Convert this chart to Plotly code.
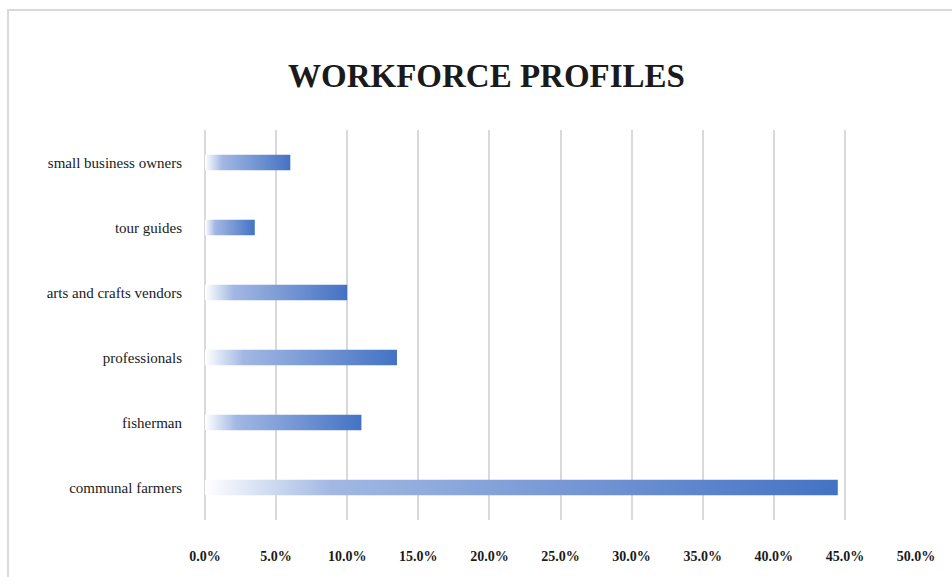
import plotly.graph_objects as go

# categories listed bottom to top, as the chart draws them
categories = [
    "communal farmers",
    "fisherman",
    "professionals",
    "arts and crafts vendors",
    "tour guides",
    "small business owners",
]
shares = [44.5, 11.0, 13.5, 10.0, 3.5, 6.0]

tick_vals = [0, 5, 10, 15, 20, 25, 30, 35, 40, 45, 50]
tick_text = [f"{v:.1f}%" for v in tick_vals]

BLUE = "#4472C4"
BAR_HALF = 0.12
SERIF = "Liberation Serif, Times New Roman, serif"

fig = go.Figure()

# each bar as a filled rectangle so it can carry a white-to-blue gradient
for i, (cat, val) in enumerate(zip(categories, shares)):
    fig.add_trace(
        go.Scatter(
            x=[0, val, val, 0, 0],
            y=[i - BAR_HALF, i - BAR_HALF, i + BAR_HALF, i + BAR_HALF, i - BAR_HALF],
            mode="lines",
            line=dict(width=0),
            fill="toself",
            fillgradient=dict(
                type="horizontal",
                colorscale=[[0, "rgba(255,255,255,1)"], [0.2, "#A2B8E3"], [1, BLUE]],
            ),
            name=cat,
            hovertemplate=f"{cat}: {val:.1f}%<extra></extra>",
            showlegend=False,
        )
    )

fig.update_layout(
    width=952,
    height=577,
    margin=dict(l=205, r=36, t=130, b=57),
    plot_bgcolor="white",
    paper_bgcolor="white",
    title=dict(
        text="<b>WORKFORCE PROFILES</b>",
        x=0.511,
        xref="container",
        y=0.89,
        yref="container",
        xanchor="center",
        font=dict(family=SERIF, size=33, color="#1a1a1a"),
    ),
    font=dict(family=SERIF, color="#1a1a1a"),
    xaxis=dict(
        range=[0, 50],
        tickvals=tick_vals,
        ticktext=[f"<b>{t}</b>" for t in tick_text],
        tickfont=dict(size=14),
        showgrid=True,
        gridcolor="#D9D9D9",
        gridwidth=2,
        zeroline=True,
        zerolinecolor="#D9D9D9",
        zerolinewidth=2,
        showline=False,
        ticks="",
        ticklabelstandoff=26,
        fixedrange=True,
    ),
    yaxis=dict(
        range=[-0.5, 5.5],
        tickvals=list(range(len(categories))),
        ticktext=categories,
        tickfont=dict(size=15),
        showgrid=False,
        zeroline=False,
        showline=False,
        ticks="",
        ticklabelstandoff=22,
        fixedrange=True,
    ),
    shapes=[
        dict(
            type="rect",
            xref="paper",
            yref="paper",
            x0=(8 - 205) / 711,
            x1=(960 - 205) / 711,
            y0=-1,
            y1=1 + 120 / 390,
            line=dict(color="#D9D9D9", width=2),
            fillcolor="rgba(0,0,0,0)",
            layer="below",
        )
    ],
)

fig.write_html(
    "out.html",
    config={"displayModeBar": False},
    post_script="document.body.style.margin='0px';",
)
